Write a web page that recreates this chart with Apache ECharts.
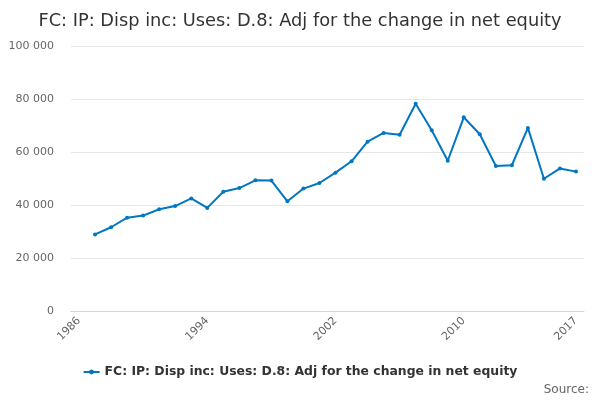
<!DOCTYPE html>
<html>
<head>
    <meta charset="UTF-8">
    <title>FC: IP: Disp inc: Uses: D.8</title>
    <style>
        body, html {
            margin: 0;
            width: 100%;
            height: 100%;
            background: #fff;
        }
        #container {
            width: 600px;
            height: 400px;
        }
    </style>
</head>
<body>
<div id="container"></div>

<script src="https://cdn.jsdelivr.net/npm/echarts@6/dist/echarts.min.js"></script>
<script>
    var titleText = 'FC: IP: Disp inc: Uses: D.8: Adj for the change in net equity';
    var seriesName = 'FC: IP: Disp inc: Uses: D.8: Adj for the change in net equity';

    var years = ['1986', '1987', '1988', '1989', '1990', '1991', '1992', '1993', '1994', '1995',
        '1996', '1997', '1998', '1999', '2000', '2001', '2002', '2003', '2004', '2005',
        '2006', '2007', '2008', '2009', '2010', '2011', '2012', '2013', '2014', '2015',
        '2016', '2017'];

    // 1986 has no value
    var values = [null, 28900, 31600, 35200, 36000, 38400, 39600, 42500, 38900, 45000,
        46400, 49300, 49200, 41400, 46200, 48300, 52200, 56500, 63900, 67200,
        66500, 78200, 68200, 56700, 73100, 66700, 54700, 55000, 69100, 49900,
        53800, 52600];

    var labelYears = ['1986', '1994', '2002', '2010', '2017'];

    function buildChart() {
        var echart = echarts.init(document.getElementById('container'));
        var option = {
            animation: false,
            textStyle: {fontFamily: 'DejaVu Sans'},
            title: {
                text: titleText,
                left: 'center',
                top: 7,
                textStyle: {
                    fontSize: 17.8,
                    fontWeight: 'normal',
                    color: '#333'
                }
            },
            legend: {
                data: [seriesName],
                bottom: 17,
                left: 'center',
                itemWidth: 16,
                itemHeight: 6,
                itemGap: 4,
                textStyle: {
                    fontSize: 12.4,
                    fontWeight: 'bold',
                    color: '#333'
                }
            },
            graphic: [{
                type: 'text',
                right: 11,
                bottom: 4,
                style: {
                    text: 'Source:',
                    fontSize: 12,
                    fill: '#666',
                    fontFamily: 'DejaVu Sans'
                }
            }],
            grid: {
                left: 71,
                right: 16,
                top: 46,
                bottom: 89
            },
            xAxis: {
                type: 'category',
                data: years,
                boundaryGap: true,
                axisLine: {lineStyle: {color: '#ccd6eb'}},
                axisTick: {
                    alignWithLabel: true,
                    length: 9,
                    lineStyle: {color: '#ccd6eb'},
                    interval: function (i, v) {
                        return (i % 2 === 0 && v !== '2016') || v === '2017';
                    }
                },
                axisLabel: {
                    rotate: 45,
                    fontSize: 11,
                    color: '#666',
                    margin: 8,
                    interval: function (i, v) {
                        return labelYears.indexOf(v) >= 0;
                    }
                }
            },
            yAxis: {
                type: 'value',
                min: 0,
                max: 100000,
                interval: 20000,
                axisLine: {show: false},
                axisTick: {show: false},
                splitLine: {lineStyle: {color: '#e6e6e6'}},
                axisLabel: {
                    fontSize: 11,
                    color: '#666',
                    margin: 17,
                    formatter: function (v) {
                        return String(v).replace(/\B(?=(\d{3})+(?!\d))/g, ' ');
                    }
                }
            },
            series: [{
                name: seriesName,
                type: 'line',
                data: values,
                symbol: 'circle',
                symbolSize: 4,
                color: '#0077c0',
                lineStyle: {width: 2}
            }]
        };
        echart.setOption(option);
    }

    buildChart();
</script>
</body>
</html>
